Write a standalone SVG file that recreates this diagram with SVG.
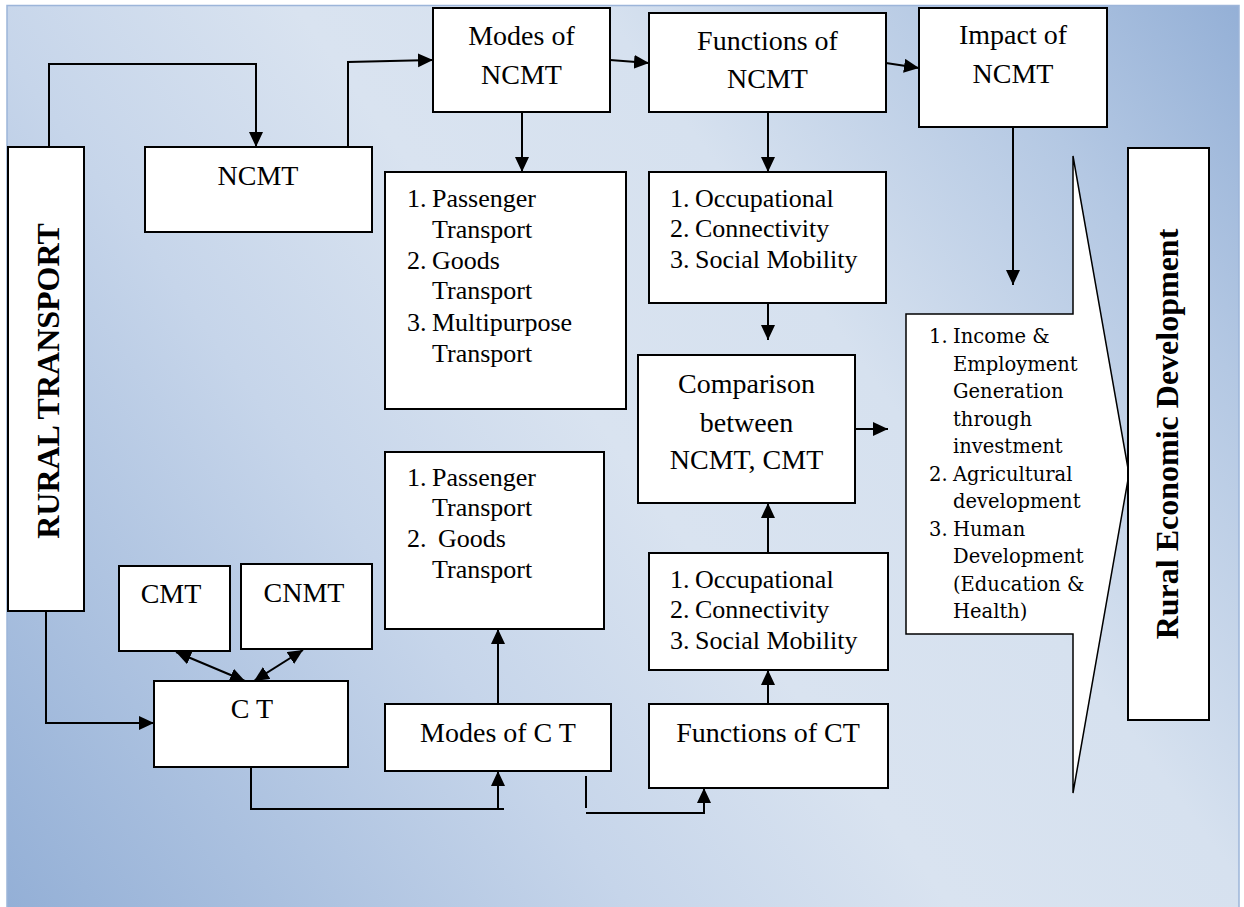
<svg xmlns="http://www.w3.org/2000/svg" width="1244" height="907" viewBox="0 0 1244 907">
<defs>
<linearGradient id="bg" gradientUnits="userSpaceOnUse" x1="0" y1="907" x2="1244" y2="0">
<stop offset="0" stop-color="#93afd6"/>
<stop offset="0.33" stop-color="#c6d5ea"/>
<stop offset="0.5" stop-color="#d9e3f0"/>
<stop offset="0.66" stop-color="#d6e1ef"/>
<stop offset="0.85" stop-color="#b4c8e3"/>
<stop offset="1" stop-color="#93afd6"/>
</linearGradient>
<marker id="ah" markerUnits="userSpaceOnUse" markerWidth="16" markerHeight="15" refX="15" refY="7" orient="auto-start-reverse">
<path d="M0,0 L15,7 L0,14 z" fill="#000"/>
</marker>
<style>
.box{fill:#fff;stroke:#000;stroke-width:2}
.h{font-family:"Liberation Serif","Times New Roman",serif;font-size:28px;fill:#000}
.l{font-family:"Liberation Serif","Times New Roman",serif;font-size:26px;fill:#000}
.v{font-family:"Liberation Serif","Times New Roman",serif;font-size:32px;font-weight:bold;fill:#000}
.imp{font-family:"DejaVu Serif","Liberation Serif",serif;font-size:19.5px;fill:#000}
.c{fill:none;stroke:#000;stroke-width:2}
.ca{fill:none;stroke:#000;stroke-width:2;marker-end:url(#ah)}
.cb{fill:none;stroke:#000;stroke-width:2;marker-end:url(#ah);marker-start:url(#ah)}
</style>
</defs>
<rect x="0" y="0" width="1244" height="907" fill="#ffffff"/>
<rect x="7" y="5.5" width="1232" height="905" fill="url(#bg)" stroke="#9cb5d9" stroke-width="1.5"/>

<g id="connectors">
<polyline class="ca" points="49,147 49,64 256,64 256,147"/>
<polyline class="ca" points="348,147 348,62 433,60"/>
<line class="ca" x1="610" y1="60" x2="649" y2="63"/>
<line class="ca" x1="886" y1="63" x2="919" y2="68"/>
<line class="ca" x1="522" y1="112" x2="522" y2="172"/>
<line class="ca" x1="768" y1="112" x2="768" y2="172"/>
<line class="ca" x1="768" y1="303" x2="768" y2="340"/>
<line class="ca" x1="1013" y1="127" x2="1013" y2="285"/>
<line class="ca" x1="855" y1="429" x2="888" y2="429"/>
<polyline class="ca" points="46,611 46,723 154,723"/>
<line class="cb" x1="176" y1="652" x2="245" y2="681"/>
<line class="cb" x1="303" y1="650" x2="254" y2="681"/>
<polyline class="c" points="251,767 251,809 504,809"/>
<line class="ca" x1="498" y1="809" x2="498" y2="771"/>
<line class="ca" x1="498" y1="704" x2="498" y2="629"/>
<line class="c" x1="586" y1="776" x2="586" y2="808"/>
<polyline class="ca" points="586,813 704,813 704,788"/>
<line class="ca" x1="768" y1="704" x2="768" y2="670"/>
<line class="ca" x1="768" y1="553" x2="768" y2="503"/>
</g>

<g id="rural-transport">
<rect class="box" x="8" y="147" width="76" height="464"/>
<text class="v" transform="translate(59,381) rotate(-90)" text-anchor="middle">RURAL TRANSPORT</text>
</g>

<g id="ncmt">
<rect class="box" x="145" y="147" width="227" height="85"/>
<text class="h" x="258" y="185" text-anchor="middle">NCMT</text>
</g>

<g id="modes-ncmt">
<rect class="box" x="433" y="8" width="177" height="104"/>
<text class="h" x="521.5" y="45" text-anchor="middle">Modes of</text>
<text class="h" x="521.5" y="84" text-anchor="middle">NCMT</text>
</g>

<g id="functions-ncmt">
<rect class="box" x="649" y="13" width="237" height="99"/>
<text class="h" x="767.5" y="50" text-anchor="middle">Functions of</text>
<text class="h" x="767.5" y="88" text-anchor="middle">NCMT</text>
</g>

<g id="impact-ncmt">
<rect class="box" x="919" y="8" width="188" height="119"/>
<text class="h" x="1013" y="44" text-anchor="middle">Impact of</text>
<text class="h" x="1013" y="83" text-anchor="middle">NCMT</text>
</g>

<g id="ncmt-modes-list">
<rect class="box" x="385" y="172" width="241" height="237"/>
<text class="l"><tspan x="407" y="207">1.</tspan><tspan x="432" y="207">Passenger</tspan></text>
<text class="l" x="432" y="238">Transport</text>
<text class="l"><tspan x="407" y="269">2.</tspan><tspan x="432" y="269">Goods</tspan></text>
<text class="l" x="432" y="299">Transport</text>
<text class="l"><tspan x="407" y="331">3.</tspan><tspan x="432" y="331">Multipurpose</tspan></text>
<text class="l" x="432" y="362">Transport</text>
</g>

<g id="ncmt-functions-list">
<rect class="box" x="649" y="172" width="237" height="131"/>
<text class="l"><tspan x="670" y="207">1.</tspan><tspan x="695" y="207">Occupational</tspan></text>
<text class="l"><tspan x="670" y="237">2.</tspan><tspan x="695" y="237">Connectivity</tspan></text>
<text class="l"><tspan x="670" y="268">3.</tspan><tspan x="695" y="268">Social Mobility</tspan></text>
</g>

<g id="comparison">
<rect class="box" x="638" y="355" width="217" height="148"/>
<text class="h" x="746.5" y="393" text-anchor="middle">Comparison</text>
<text class="h" x="746.5" y="432" text-anchor="middle">between</text>
<text class="h" x="746.5" y="469" text-anchor="middle">NCMT, CMT</text>
</g>

<g id="ct-modes-list">
<rect class="box" x="385" y="452" width="219" height="177"/>
<text class="l"><tspan x="407" y="486">1.</tspan><tspan x="432" y="486">Passenger</tspan></text>
<text class="l" x="432" y="516">Transport</text>
<text class="l"><tspan x="407" y="547">2.</tspan><tspan x="438" y="547">Goods</tspan></text>
<text class="l" x="432" y="578">Transport</text>
</g>

<g id="ct-functions-list">
<rect class="box" x="649" y="553" width="239" height="117"/>
<text class="l"><tspan x="670" y="588">1.</tspan><tspan x="695" y="588">Occupational</tspan></text>
<text class="l"><tspan x="670" y="618">2.</tspan><tspan x="695" y="618">Connectivity</tspan></text>
<text class="l"><tspan x="670" y="649">3.</tspan><tspan x="695" y="649">Social Mobility</tspan></text>
</g>

<g id="cmt">
<rect class="box" x="119" y="566" width="111" height="85"/>
<text class="h" x="171" y="603" text-anchor="middle">CMT</text>
</g>

<g id="cnmt">
<rect class="box" x="241" y="564" width="131" height="85"/>
<text class="h" x="304" y="602" text-anchor="middle">CNMT</text>
</g>

<g id="ct">
<rect class="box" x="154" y="681" width="194" height="86"/>
<text class="h" x="252" y="718" text-anchor="middle">C T</text>
</g>

<g id="modes-ct">
<rect class="box" x="385" y="704" width="226" height="67"/>
<text class="h" x="498" y="742" text-anchor="middle">Modes of C T</text>
</g>

<g id="functions-ct">
<rect class="box" x="649" y="704" width="239" height="84"/>
<text class="h" x="768" y="742" text-anchor="middle">Functions of CT</text>
</g>

<g id="impact-arrow">
<polygon points="906,314 1073,314 1073,156 1129,474 1073,793 1073,634 906,634" fill="#fff" stroke="#000" stroke-width="1.5"/>
<text class="imp"><tspan x="929" y="343">1.</tspan><tspan x="953" y="343">Income &amp;</tspan></text>
<text class="imp" x="953" y="371">Employment</text>
<text class="imp" x="953" y="398">Generation</text>
<text class="imp" x="953" y="426">through</text>
<text class="imp" x="953" y="453">investment</text>
<text class="imp"><tspan x="929" y="481">2.</tspan><tspan x="953" y="481">Agricultural</tspan></text>
<text class="imp" x="953" y="508">development</text>
<text class="imp"><tspan x="929" y="536">3.</tspan><tspan x="953" y="536">Human</tspan></text>
<text class="imp" x="953" y="563">Development</text>
<text class="imp" x="953" y="591">(Education &amp;</text>
<text class="imp" x="953" y="618">Health)</text>
</g>

<g id="rural-economic-development">
<rect class="box" x="1128" y="148" width="81" height="572"/>
<text class="v" transform="translate(1178,434) rotate(-90)" text-anchor="middle">Rural Economic Development</text>
</g>
</svg>
